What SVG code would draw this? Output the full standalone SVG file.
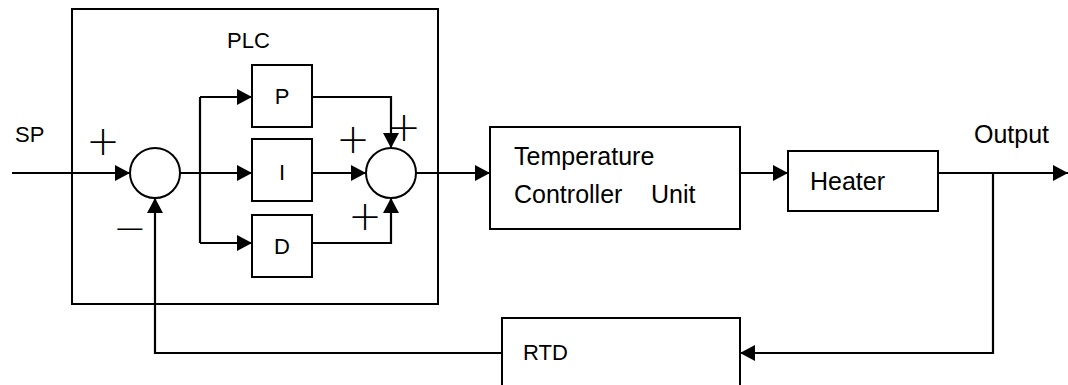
<svg xmlns="http://www.w3.org/2000/svg" width="1068" height="385" viewBox="0 0 1068 385">
<defs>
<marker id="ah" markerUnits="userSpaceOnUse" markerWidth="16" markerHeight="16" refX="15" refY="8" orient="auto">
<path d="M0,0 L15,8 L0,16 z" fill="#000"/>
</marker>
<style>
.box{fill:#fff;stroke:#000;stroke-width:2}
.ln{fill:none;stroke:#000;stroke-width:2.2}
.arr{fill:none;stroke:#000;stroke-width:2.2;marker-end:url(#ah)}
.t{font-family:"Liberation Sans",Arial,sans-serif;font-size:22px;fill:#000}
.tl{font-family:"Liberation Sans",Arial,sans-serif;font-size:25px;fill:#000}
.sg{font-family:"DejaVu Sans",sans-serif;font-weight:200;font-size:40px;fill:#000}
</style>
</defs>
<rect width="1068" height="385" fill="#fff"/>
<g id="plc"><rect class="box" x="72" y="9" width="366" height="295" fill="none"/><text class="t" x="227" y="48">PLC</text></g>
<g id="connectors">
<path class="arr" d="M12,173 H130"/>
<path class="arr" d="M180,173 H252"/>
<path class="ln" d="M200,97 V243"/>
<path class="arr" d="M200,97 H252"/>
<path class="arr" d="M200,243 H252"/>
<path class="arr" d="M312,173 H366"/>
<path class="arr" d="M312,97 H391 V148"/>
<path class="arr" d="M312,243 H391 V198"/>
<path class="arr" d="M416,173 H490"/>
<path class="arr" d="M740,173 H788"/>
<path class="arr" d="M938,173 H1068"/>
<path class="arr" d="M993,173 V353 H740"/>
<path class="arr" d="M502,353 H155 V198"/>
</g>
<g id="sum1"><circle class="box" cx="155" cy="173" r="25"/></g>
<g id="sum2"><circle class="box" cx="391" cy="173" r="25"/></g>
<g id="p"><rect class="box" x="252" y="65" width="60" height="62"/><text class="t" x="282" y="104" text-anchor="middle">P</text></g>
<g id="i"><rect class="box" x="252" y="139" width="60" height="62"/><text class="t" x="282" y="180" text-anchor="middle">I</text></g>
<g id="d"><rect class="box" x="252" y="215" width="60" height="62"/><text class="t" x="282" y="254" text-anchor="middle">D</text></g>
<g id="tcu"><rect class="box" x="490" y="127" width="250" height="102"/><text class="tl" x="514" y="165">Temperature</text><text class="tl" y="203"><tspan x="514">Controller</tspan> <tspan x="651">Unit</tspan></text></g>
<g id="heater"><rect class="box" x="788" y="151" width="150" height="60"/><text class="tl" x="810" y="190">Heater</text></g>
<g id="rtd"><rect class="box" x="502" y="318" width="238" height="68"/><text class="t" x="523" y="360">RTD</text></g>
<g id="labels">
<text class="t" x="15" y="142">SP</text>
<text class="tl" x="974" y="143">Output</text>
<text class="sg" x="103" y="155" text-anchor="middle">+</text>
<text class="sg" x="130" y="242" text-anchor="middle">−</text>
<text class="sg" x="353" y="153" text-anchor="middle">+</text>
<text class="sg" x="404" y="141" text-anchor="middle">+</text>
<text class="sg" x="365" y="230" text-anchor="middle">+</text>
</g>
</svg>
